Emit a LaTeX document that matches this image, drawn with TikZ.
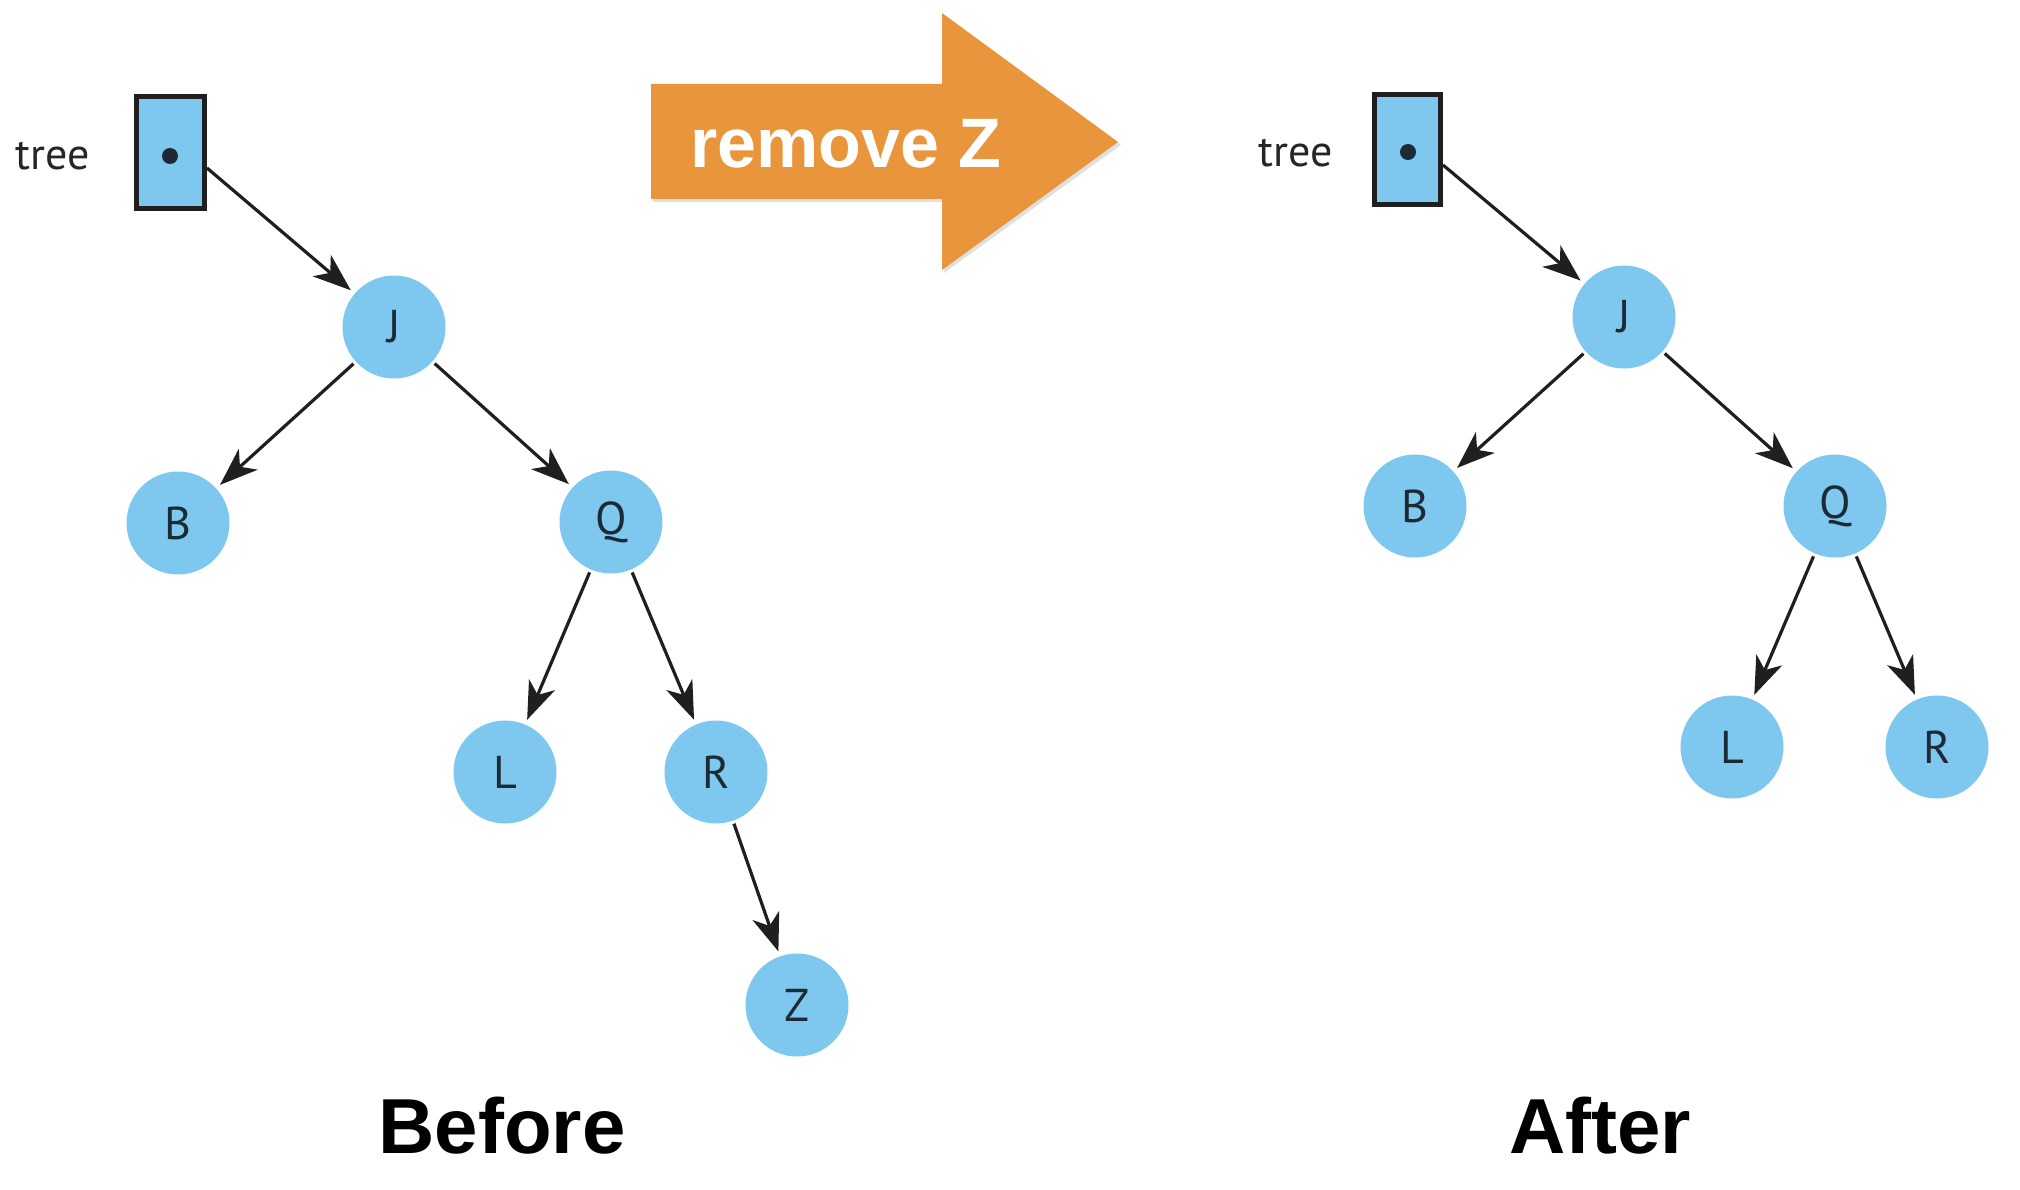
\documentclass[tikz,border=0pt]{standalone}
\usepackage{fontspec}
\setmainfont{Liberation Sans}
\newfontfamily\treefont{PT Sans}
\usetikzlibrary{arrows.meta}
\definecolor{nodeblue}{HTML}{7EC7EE}
\definecolor{orangearrow}{HTML}{E8953C}
\definecolor{inkdark}{HTML}{1C2A36}
\begin{document}
\begin{tikzpicture}[x=1pt,y=-1pt,
  tnode/.style={circle,fill=nodeblue,minimum size=103pt,inner sep=0pt,
    font=\treefont\fontsize{46}{46}\selectfont,text=inkdark},
  ptrbox/.style={draw=black!88,line width=5pt,fill=nodeblue,minimum width=68pt,minimum height=112pt,inner sep=0pt},
  dotmark/.style={circle,fill=inkdark,minimum size=16pt,inner sep=0pt},
  lbl/.style={font=\treefont\fontsize{44}{44}\selectfont,text=black!85,anchor=base},
  edge/.style={draw=black!88,line width=3.2pt,-{Stealth[length=38pt,width=28pt,inset=11pt]},shorten >=5pt,shorten <=3pt},
  title/.style={font=\bfseries\fontsize{78}{78}\selectfont,anchor=base}
]
\useasboundingbox (0,0) rectangle (2020,1190);

% ---------- Before ----------
\node[ptrbox] (boxL) at (170,153) {};
\node[dotmark] (dotL) at (170,156) {};
\node[lbl] (treeL) at (53,170) {tree};
\coordinate (startL) at (207,168);
\node[tnode] (J1) at (394,327) {J};
\node[tnode] (B1) at (178,523) {B};
\node[tnode] (Q1) at (611,522) {Q};
\node[tnode] (L1) at (505,772) {L};
\node[tnode] (R1) at (716,772) {R};
\node[tnode] (Z1) at (797,1005) {Z};
\draw[edge,shorten <=0pt] (startL) -- (J1);
\draw[edge] (J1) -- (B1);
\draw[edge] (J1) -- (Q1);
\draw[edge] (Q1) -- (L1);
\draw[edge] (Q1) -- (R1);
\draw[edge] (R1) -- (Z1);
\node[title] (before) at (502,1153) {Before};

% ---------- After ----------
\node[ptrbox,minimum width=66pt,minimum height=110pt] (boxR) at (1407,150) {};
\node[dotmark] (dotR) at (1408,152) {};
\node[lbl] (treeR) at (1296,167) {tree};
\coordinate (startR) at (1443,165);
\node[tnode] (J2) at (1624,317) {J};
\node[tnode] (B2) at (1415,506) {B};
\node[tnode] (Q2) at (1835,506) {Q};
\node[tnode] (L2) at (1732,747) {L};
\node[tnode] (R2) at (1937,747) {R};
\draw[edge,shorten <=0pt] (startR) -- (J2);
\draw[edge] (J2) -- (B2);
\draw[edge] (J2) -- (Q2);
\draw[edge] (Q2) -- (L2);
\draw[edge] (Q2) -- (R2);
\node[title] (after) at (1600,1153) {After};

% ---------- big arrow ----------
\fill[black,opacity=0.12] (653,87) -- (944,87) -- (944,16) -- (1121,145) -- (944,273) -- (944,202) -- (653,202) -- cycle;
\fill[orangearrow] (651,84) -- (942,84) -- (942,13) -- (1118,142) -- (942,270) -- (942,199) -- (651,199) -- cycle;
\node[font=\bfseries\fontsize{70}{70}\selectfont,text=white,anchor=base] (rm) at (846,168) {remove Z};
\end{tikzpicture}
\end{document}
